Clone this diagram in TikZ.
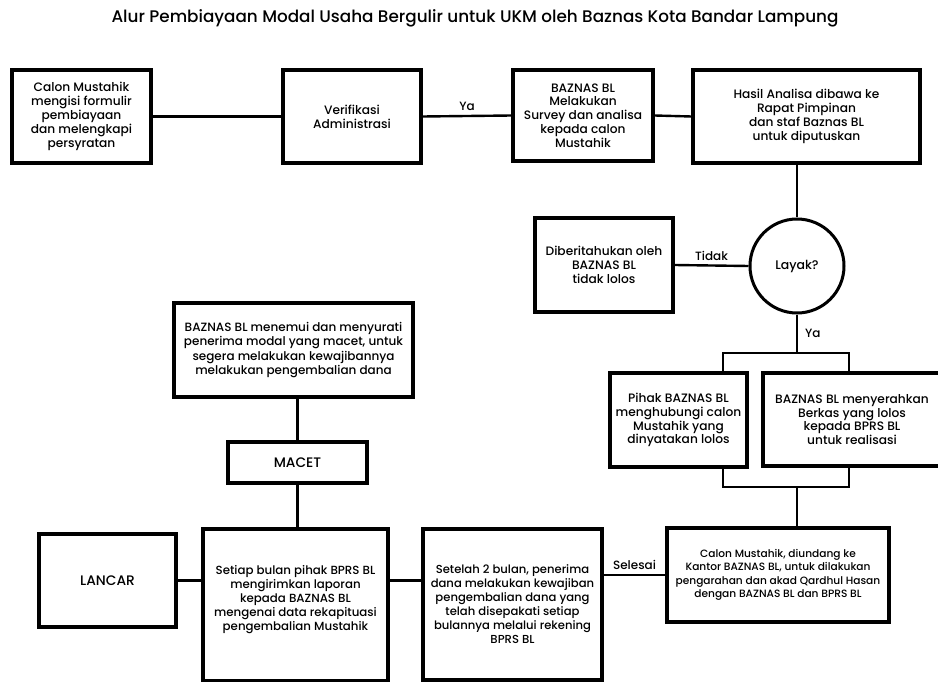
\documentclass[tikz,border=0pt]{standalone}
\usepackage{fontspec}
\setmainfont{Poppins}[UprightFont={* Medium},BoldFont={* SemiBold}]
\begin{document}
\begin{tikzpicture}[x=1pt,y=-1pt,
  box/.style={draw,line width=3.4pt,align=center,inner sep=2pt,font=\fontsize{12.2}{13.8}\selectfont},
  conn/.style={line width=2.4pt},
  lbl/.style={font=\fontsize{12}{14}\selectfont,inner sep=1pt}]
\useasboundingbox (0,0) rectangle (938,682);
\node[font=\fontsize{16.8}{18}\selectfont] (title) at (475,18) {Alur Pembiayaan Modal Usaha Bergulir untuk UKM oleh Baznas Kota Bandar Lampung};

\node[box,minimum width=139pt,minimum height=93pt] (b1) at (81.5,116.5) {Calon Mustahik\\mengisi formulir\\pembiayaan\\dan melengkapi\\persyratan};
\node[box,minimum width=138pt,minimum height=93pt] (b2) at (352,116.5) {Verifikasi\\Administrasi};
\node[box,minimum width=140pt,minimum height=91pt] (b3) at (583,115.5) {BAZNAS BL\\Melakukan\\Survey dan analisa\\kepada calon\\Mustahik};
\node[box,minimum width=227pt,minimum height=93pt] (b4) at (806.5,116.5) {Hasil Analisa dibawa ke\\Rapat Pimpinan\\dan staf Baznas BL\\untuk diputuskan};

\node[draw,circle,line width=3pt,minimum size=94pt,inner sep=0pt,font=\fontsize{12.5}{13}\selectfont] (lay) at (797,266) {Layak?};
\node[box,minimum width=138pt,minimum height=94pt] (tdk) at (604,265) {Diberitahukan oleh\\BAZNAS BL\\tidak lolos};

\node[box,minimum width=137pt,minimum height=94pt] (pih) at (678.5,420) {Pihak BAZNAS BL\\menghubungi calon\\Mustahik yang\\dinyatakan lolos};
\node[box,minimum width=178pt,minimum height=93pt] (ser) at (852,419.5) {BAZNAS BL menyerahkan\\Berkas yang lolos\\kepada BPRS BL\\untuk realisasi};

\node[box,minimum width=222pt,minimum height=94pt,font=\fontsize{10.6}{13.3}\selectfont] (cal) at (778,575) {Calon Mustahik, diundang ke\\Kantor BAZNAS BL, untuk dilakukan\\pengarahan dan akad Qardhul Hasan\\dengan BAZNAS BL dan BPRS BL};
\node[box,minimum width=179pt,minimum height=151pt,font=\fontsize{11.6}{14}\selectfont] (stl) at (512.5,604.5) {Setelah 2 bulan, penerima\\dana melakukan kewajiban\\pengembalian dana yang\\telah disepakati setiap\\bulannya melalui rekening\\BPRS BL};
\node[box,minimum width=185pt,minimum height=152pt,font=\fontsize{11.8}{14}\selectfont] (stp) at (295.5,605) {Setiap bulan pihak BPRS BL\\mengirimkan laporan\\kepada BAZNAS BL\\mengenai data rekapituasi\\pengembalian Mustahik\\~};
\node[box,minimum width=137pt,minimum height=93pt,font=\fontsize{13.8}{14}\selectfont] (lan) at (107.5,580.5) {LANCAR};
\node[box,minimum width=139pt,minimum height=41pt,font=\fontsize{13.8}{14}\selectfont] (mac) at (297.5,462.5) {MACET};
\node[box,minimum width=239pt,minimum height=94pt,font=\fontsize{12}{14.1}\selectfont] (tem) at (293.5,350) {BAZNAS BL menemui dan menyurati\\penerima modal yang macet, untuk\\segera melakukan kewajibannya\\melakukan pengembalian dana};

\coordinate (tl) at (723,353);
\coordinate (tr) at (849,353);
\coordinate (bl) at (723,487);
\coordinate (br) at (849,487);
\coordinate (jt) at (797,353);
\coordinate (jb) at (797,487);

\draw[conn] (b1.east) -- (b2.west);
\draw[conn] (b2.east) -- node[lbl,above=3pt,pos=0.5] (ya1) {Ya} (b3.west);
\draw[conn] (b3.east) -- (b4.west);
\draw[conn] (b4.south -| lay.north) -- (lay.north);
\draw[conn] (lay.west) -- node[lbl,above=3pt] (tdkl) {Tidak} (tdk.east);
\draw[conn] (lay.south) -- node[lbl,right=6pt] (ya2) {Ya} (jt);
\draw[conn] (pih.north -| tl) -- (tl) -- (tr) -- (ser.north -| tr);
\draw[conn] (pih.south -| bl) -- (bl) -- (br) -- (ser.south -| br);
\draw[conn] (jb) -- (cal.north -| jb);
\draw[conn] (cal.west) -- node[lbl,above=3pt] (sel) {Selesai} (stl.east |- cal.west);
\draw[conn] (stl.west |- lan.east) -- (stp.east |- lan.east);
\draw[conn] (stp.west |- lan.east) -- (lan.east);
\draw[conn] (stp.north -| mac.south) -- (mac.south);
\draw[conn] (mac.north) -- (tem.south -| mac.north);
\end{tikzpicture}
\end{document}
